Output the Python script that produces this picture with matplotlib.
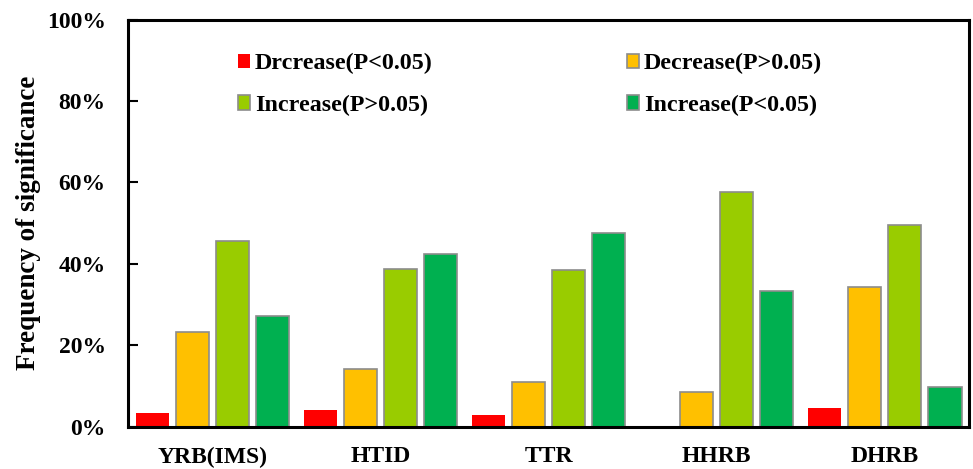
import matplotlib.pyplot as plt
import numpy as np
from matplotlib.ticker import PercentFormatter

plt.rcParams['font.family'] = 'Liberation Serif'
plt.rcParams['font.weight'] = 'bold'

regions = ['YRB(IMS)', 'HTID', 'TTR', 'HHRB', 'DHRB']
dec_sig = [3.4, 4.2, 3.0, 0.0, 4.7]
dec_ns = [23.3, 14.2, 11.1, 8.5, 34.4]
inc_ns = [45.7, 38.8, 38.5, 57.7, 49.6]
inc_sig = [27.2, 42.5, 47.6, 33.4, 9.9]

series = [
    ('Drcrease(P<0.05)', dec_sig, '#FF0000', 'none'),
    ('Decrease(P>0.05)', dec_ns, '#FFC000', '#8C8C8C'),
    ('Increase(P>0.05)', inc_ns, '#99CC00', '#8C8C8C'),
    ('Increase(P<0.05)', inc_sig, '#00B050', '#8C8C8C'),
]


def main():
    fig = plt.figure(figsize=(9.73, 4.69), dpi=100)
    ax = fig.add_axes([0.1316, 0.0896, 0.8643, 0.8688])

    x = np.arange(len(regions))
    step = 0.238
    width = 0.197
    bars = {}
    for i, (name, vals, color, edge) in enumerate(series):
        bars[name] = ax.bar(x + (i - 1.5) * step, vals, width, color=color,
                            edgecolor=edge, linewidth=1.2, label=name)

    ax.set_xlim(-0.5, len(regions) - 0.5)
    ax.set_ylim(0, 100)
    ax.set_yticks(np.arange(0, 101, 20))
    ax.yaxis.set_major_formatter(PercentFormatter(decimals=0))
    ax.set_xticks(x)
    ax.set_xticklabels(regions)
    ax.tick_params(axis='x', length=0, pad=14, labelsize=17)
    ax.tick_params(axis='y', direction='in', length=7, width=1.5, labelsize=17, pad=16)
    for s in ax.spines.values():
        s.set_linewidth(2.2)

    ax.set_ylabel('Frequency of significance', fontsize=19.5, fontweight='bold', labelpad=4)

    # column-wise fill: red and light green in the left column
    order = ['Drcrease(P<0.05)', 'Increase(P>0.05)', 'Decrease(P>0.05)', 'Increase(P<0.05)']
    ax.legend([bars[n] for n in order], order, ncol=2, frameon=False,
              loc='upper left', bbox_to_anchor=(0.105, 0.97),
              fontsize=17.3, handlelength=0.5, handleheight=0.55,
              handletextpad=0.2, columnspacing=8.1, labelspacing=0.85)

    fig.savefig('out.png', dpi=100)


if __name__ == '__main__':
    main()
